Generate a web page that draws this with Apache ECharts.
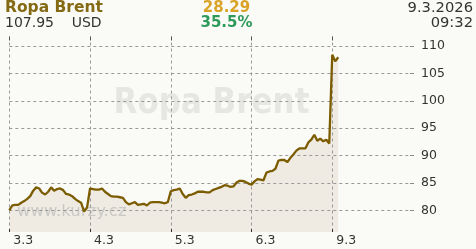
<!DOCTYPE html>
<html><head><meta charset="utf-8">
<script src="https://cdn.jsdelivr.net/npm/echarts@6/dist/echarts.min.js"></script>
<style>html,body{margin:0;padding:0;background:#fafaf6;}#c{width:476px;height:249px;}</style>
</head><body><div id="c"></div>
<script>
// ---- data ----
const dayLabels = ['3.3', '4.3', '5.3', '6.3', '9.3'];
const pointsPerDay = 27;
const day1 = [80.0, 80.9, 81.0, 81.0, 81.4, 81.7, 82.1, 82.6, 83.6, 84.2, 84.0, 83.2, 82.9, 83.4, 84.2, 83.6, 83.9, 84.0, 83.7, 83.0, 82.9, 82.6, 82.1, 81.7, 81.4, 79.8, 80.5];
const day2 = [84.0, 83.9, 83.8, 83.8, 84.0, 83.4, 83.0, 82.6, 82.5, 82.5, 82.4, 82.3, 81.5, 81.1, 81.3, 81.5, 81.0, 81.1, 81.2, 80.9, 81.4, 81.5, 81.5, 81.5, 81.4, 81.3, 81.5];
const day3 = [83.5, 83.7, 83.8, 84.0, 83.0, 82.3, 82.8, 82.9, 83.1, 83.4, 83.4, 83.4, 83.3, 83.3, 83.7, 83.9, 84.1, 84.3, 84.6, 84.5, 84.3, 84.4, 85.1, 85.4, 85.4, 85.2, 84.9];
const day4 = [84.7, 85.3, 85.7, 85.6, 85.5, 86.9, 87.1, 87.2, 87.6, 89.1, 89.2, 89.2, 88.8, 89.6, 90.2, 90.9, 91.3, 91.3, 91.3, 92.4, 92.9, 93.8, 92.7, 93.1, 92.6, 92.9, 92.2];
const day5 = [108.4, 107.2, 107.95];
const yTicks = [80, 85, 90, 95, 100, 105, 110];

const title = 'Ropa Brent';
const lastPrice = '107.95';
const currency = 'USD';
const change = '28.29';
const changePct = '35.5%';
const dateText = '9.3.2026';
const timeText = '09:32';
const site = 'www.kurzy.cz';

// ---- build ----
const categories = [];
dayLabels.forEach(d => { for (let i = 0; i < pointsPerDay; i++) categories.push(d + ' ' + i); });
const values = [].concat(day1, day2, day3, day4, day5);
const isDayStart = (idx) => idx % pointsPerDay === 0;
const FONT = '"DejaVu Sans", Verdana, sans-serif';

const chart = echarts.init(document.getElementById('c'), null, {renderer: 'canvas'});
chart.setOption({
  backgroundColor: '#fafaf6',
  animation: false,
  grid: {left: 9.3, right: 66, top: 36.5, bottom: 17},
  xAxis: [{
    type: 'category', boundaryGap: false, data: categories, z: 2,
    axisLine: {show: false},
    axisTick: {show: true, inside: true, length: 3, interval: isDayStart, lineStyle: {color: '#333'}},
    axisLabel: {interval: isDayStart, formatter: v => v.split(' ')[0], align: 'left', padding: [0, 0, 0, 4],
      margin: 2, color: '#333', fontSize: 12.5, fontFamily: FONT},
    splitLine: {show: true, interval: isDayStart, lineStyle: {type: [3, 3], color: '#999', width: 1}}
  }, {
    type: 'category', position: 'top', boundaryGap: false, data: categories, z: 2,
    axisLine: {show: false},
    axisTick: {show: true, inside: true, length: 4, interval: isDayStart, lineStyle: {color: '#555'}},
    axisLabel: {show: false},
    splitLine: {show: false}
  }],
  yAxis: {
    type: 'value', position: 'right', min: 76.06, max: 111.73, z: 2,
    axisLine: {show: false},
    axisTick: {show: true, length: 4, customValues: yTicks, lineStyle: {color: '#888'}},
    axisLabel: {customValues: yTicks, margin: 11, color: '#333', fontSize: 12.5, fontFamily: FONT},
    splitLine: {show: true, lineStyle: {type: [3, 3], color: '#999', width: 1}}
  },
  series: [
    {type: 'line', data: values, showSymbol: false, z: 1, lineStyle: {width: 0, opacity: 0},
      areaStyle: {color: '#efebe2', origin: 'start', opacity: 1}},
    {type: 'line', data: values, showSymbol: false, z: 3, lineStyle: {color: '#7b5c00', width: 2.3}}
  ],
  graphic: {elements: [
    {type: 'text', z: -1, x: 211.5, y: 104, scaleY: 1.15, style: {text: title, fill: '#e6e6e3', font: 'bold 31px ' + FONT, textAlign: 'center', textVerticalAlign: 'middle'}},
    {type: 'text', z: 2, x: 17, y: 211.5, style: {text: site, fill: '#c9c9c6', font: '16.5px ' + FONT, textAlign: 'left', textVerticalAlign: 'middle'}},
    {type: 'text', z: 10, x: 5, y: 8, style: {text: title, fill: '#856a14', font: 'bold 15.5px ' + FONT, textAlign: 'left', textVerticalAlign: 'middle'}},
    {type: 'text', z: 10, x: 5, y: 23, style: {text: lastPrice, fill: '#333', font: '14px ' + FONT, textAlign: 'left', textVerticalAlign: 'middle'}},
    {type: 'text', z: 10, x: 71.7, y: 23, style: {text: currency, fill: '#333', font: '14px ' + FONT, textAlign: 'left', textVerticalAlign: 'middle'}},
    {type: 'text', z: 10, x: 226.5, y: 8, style: {text: change, fill: '#d9a326', font: 'bold 15px ' + FONT, textAlign: 'center', textVerticalAlign: 'middle'}},
    {type: 'text', z: 10, x: 226.5, y: 23, style: {text: changePct, fill: '#2e9a5a', font: 'bold 15px ' + FONT, textAlign: 'center', textVerticalAlign: 'middle'}},
    {type: 'text', z: 10, x: 473, y: 8, style: {text: dateText, fill: '#333', font: '14.7px ' + FONT, textAlign: 'right', textVerticalAlign: 'middle'}},
    {type: 'text', z: 10, x: 473, y: 23, style: {text: timeText, fill: '#333', font: '14.7px ' + FONT, textAlign: 'right', textVerticalAlign: 'middle'}}
  ]}
});
</script></body></html>
